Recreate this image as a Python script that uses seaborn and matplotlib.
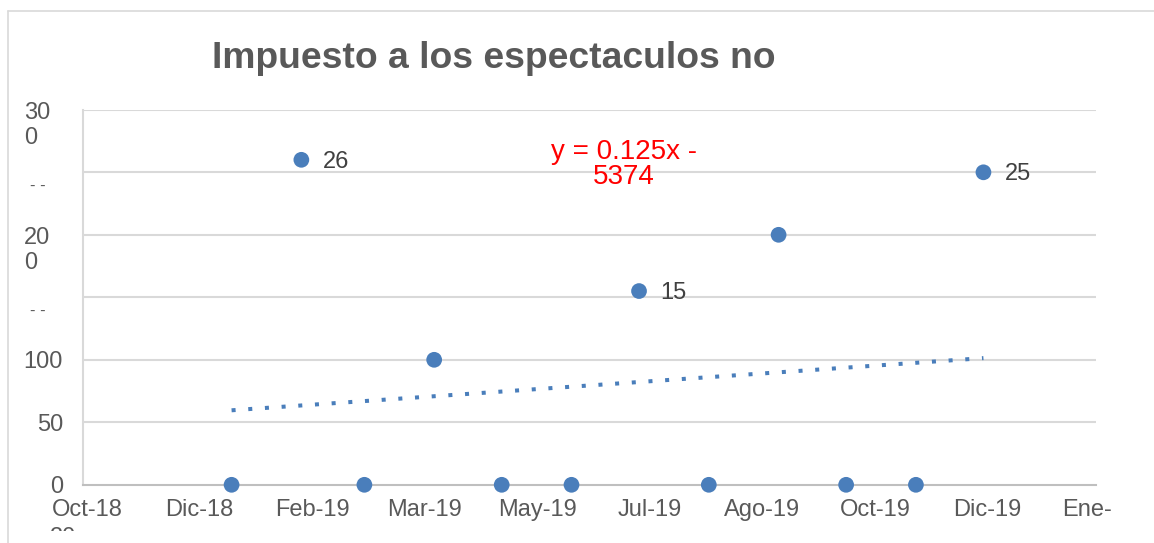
import numpy as np
import pandas as pd
import matplotlib
matplotlib.use("Agg")
import matplotlib.pyplot as plt
import matplotlib.transforms as mtransforms
from matplotlib.lines import Line2D
import seaborn as sns


# ── Data (x = Excel date serials, first day of each month of 2019) ─────────────

months = ["Ene-19", "Feb-19", "Mar-19", "Abr-19", "May-19", "Jun-19",
          "Jul-19", "Ago-19", "Sep-19", "Oct-19", "Nov-19", "Dic-19"]
serials = [43466, 43497, 43525, 43556, 43586, 43617,
           43647, 43678, 43709, 43739, 43770, 43800]
values = [0, 260, 0, 100, 0, 0, 155, 0, 200, 0, 0, 250]
point_labels = ["", "26", "", "", "", "", "15", "", "", "", "", "25"]

x_ticks = [43400, 43450, 43500, 43550, 43600, 43650, 43700, 43750, 43800, 43850]
x_tick_labels = ["Oct-18", "Dic-18", "Feb-19", "Mar-19", "May-19", "Jul-19",
                 "Ago-19", "Oct-19", "Dic-19", "Ene-"]
y_ticks = [0, 50, 100]
y_tick_labels = ["0", "50", "100"]
y_wrapped = [(300, "30\n0"), (200, "20\n0")]
y_clipped = [250, 150]

title = "Impuesto a los espectaculos no"
equation = "y = 0.125x -\n5374"

df = pd.DataFrame({"mes": months, "fecha": serials, "valor": values,
                   "etiqueta": point_labels})

BLUE = "#4A7EBB"
GREY_TXT = "#595959"
GRID = "#D9D9D9"

sns.set_theme(style="white")
plt.rcParams["font.family"] = ["Liberation Sans", "DejaVu Sans"]

W, H = 1154, 543
fig = plt.figure(figsize=(W / 100, H / 100), dpi=100)
ax = fig.add_axes([83 / W, 58.2 / H, 1013 / W, 375 / H])

# gridlines
for v in range(50, 301, 50):
    ax.axhline(v, color=GRID, lw=1.5, zorder=0)

# trend line (least squares, drawn over the data range)
slope, intercept = np.polyfit(df["fecha"], df["valor"], 1)
tx = np.array([df["fecha"].min(), df["fecha"].max()])
ax.plot(tx, slope * tx + intercept, color=BLUE, lw=2.9,
        linestyle=(0, (1, 3.15)), dash_capstyle="butt", zorder=2)

sns.scatterplot(data=df, x="fecha", y="valor", color=BLUE, s=128,
                edgecolor="none", ax=ax, zorder=3, clip_on=False)

for _, r in df[df["etiqueta"] != ""].iterrows():
    ax.annotate(r["etiqueta"], (r["fecha"], r["valor"]), xytext=(15.5, -1.5),
                textcoords="offset points", ha="left", va="center",
                fontsize=17, color="#404040")

ax.text(0.5336, 0.853, equation, transform=ax.transAxes, ha="center",
        va="center", multialignment="center", fontsize=20, color="#FF0000",
        linespacing=0.95)

ax.set_xlim(43400, 43850)
ax.set_ylim(0, 300)
ax.set_xticks(x_ticks)
ax.set_xticklabels(x_tick_labels)
ax.set_yticks(y_ticks)
ax.set_yticklabels(y_tick_labels)
ax.set_xlabel("")
ax.set_ylabel("")
ax.tick_params(axis="both", length=0, labelsize=17, labelcolor=GREY_TXT)
ax.tick_params(axis="y", pad=14.4)
ax.tick_params(axis="x", pad=10.5)

shift = lambda px: mtransforms.ScaledTranslation(px / 100, 0, fig.dpi_scale_trans)
for i, lbl in enumerate(ax.get_xticklabels()):
    lbl.set_transform(lbl.get_transform() + shift(-9 if i == len(x_ticks) - 1 else 4))

# wrapped / clipped y labels like the original sheet
ytr = ax.get_yaxis_transform()
for v, txt in y_wrapped:
    ax.text(-0.0582, v + 6.2, txt, transform=ytr, ha="left", va="top",
            multialignment="left", fontsize=17, color=GREY_TXT, linespacing=1.15)
for v in y_clipped:
    ax.text(-0.0444, v - 10.2, "- -", transform=ytr, ha="center", va="center",
            fontsize=12, color=GREY_TXT)

for side in ["top", "right"]:
    ax.spines[side].set_visible(False)
ax.spines["left"].set_color(GRID)
ax.spines["left"].set_linewidth(1.5)
ax.spines["bottom"].set_color("#BFBFBF")
ax.spines["bottom"].set_linewidth(1.5)

fig.text(494 / W, (H - 68) / H, title, ha="center", va="baseline",
         fontsize=26.8, fontweight="bold", color=GREY_TXT)
# second line of the last date label, cut off by the chart frame
cut = fig.text(63 / W, -1 / H, "20", ha="center", va="baseline",
               fontsize=17, color=GREY_TXT)
cut.set_clip_box(mtransforms.Bbox.from_bounds(0, 12.5, W, 30))
cut.set_clip_on(True)

# chart area border
fig.add_artist(Line2D([7.5 / W, 7.5 / W], [0, (H - 10.5) / H],
                      transform=fig.transFigure, color=GRID, lw=1.2))
fig.add_artist(Line2D([7.5 / W, 1], [(H - 10.5) / H, (H - 10.5) / H],
                      transform=fig.transFigure, color=GRID, lw=1.2))

fig.savefig("out.png", dpi=100)
